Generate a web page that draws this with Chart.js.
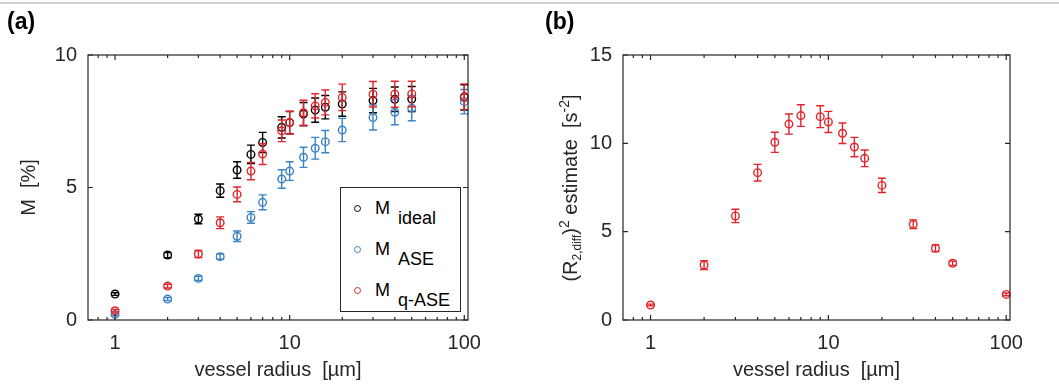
<!DOCTYPE html>
<html>
<head>
<meta charset="utf-8">
<title>Vessel radius dependence</title>
<script src="https://cdn.jsdelivr.net/npm/chart.js"></script>
<style>
  body { margin: 0; background: #fff; }
  #wrap {
    position: relative; width: 1059px; height: 387px; overflow: hidden;
    font-family: 'Liberation Sans', Arial, sans-serif; color: #262626;
  }
  canvas { position: absolute; top: 0; }
  #chartA { left: 0; }
  #chartB { left: 530px; }
  .rule { position: absolute; left: 0; top: 2px; width: 1059px; height: 2px; background: #d0d0d0; }
  .tag { position: absolute; top: 10px; font: bold 23px 'Liberation Sans', Arial, sans-serif; line-height: 23px; color: #000; }
  .legend {
    position: absolute; left: 340px; top: 187px; width: 121px; height: 125px;
    box-sizing: border-box; border: 1.3px solid #262626; background: #fff;
  }
  .lg-row { position: absolute; left: 375px; font-size: 18px; line-height: 18px; white-space: pre; color: #000; }
  .lg-row span { position: relative; top: 10px; margin-left: 8px; }
  .lg-dot { position: absolute; width: 7px; height: 7px; box-sizing: border-box; border: 1.4px solid; border-radius: 50%; }
  .ytitle {
    position: absolute; left: 571px; top: 188px; font-size: 20px; line-height: 20px;
    white-space: pre; transform: translate(-50%, -50%) rotate(-90deg);
  }
  .ytitle .lo { font-size: 12px; position: relative; top: 4px; }
  .ytitle .hi { font-size: 14px; position: relative; top: -8px; }
</style>
</head>
<body>
<div id="wrap">
  <div class="rule"></div>
  <canvas id="chartA" width="530" height="387"></canvas>
  <canvas id="chartB" width="529" height="387"></canvas>
  <div class="tag" style="left:7px">(a)</div>
  <div class="tag" style="left:545px">(b)</div>

  <div class="legend"></div>
  <div class="lg-dot" style="left:354px; top:205px; border-color:#000"></div>
  <div class="lg-row" style="top:199px">M<span>ideal</span></div>
  <div class="lg-dot" style="left:354px; top:246px; border-color:#3a83c5"></div>
  <div class="lg-row" style="top:240px">M<span>ASE</span></div>
  <div class="lg-dot" style="left:354px; top:287px; border-color:#e3242b"></div>
  <div class="lg-row" style="top:281px">M<span>q-ASE</span></div>

  <div class="ytitle">(R<span class="lo">2,diff</span>)<span class="hi">2</span> estimate  [s<span class="hi">-2</span>]</div>
</div>

<script>
// vessel radii in µm, shared by every series
const radius = [1, 2, 3, 4, 5, 6, 7, 9, 10, 12, 14, 16, 20, 30, 40, 50, 100];

// panel (a): M in %
const mIdeal    = [0.98, 2.45, 3.81, 4.88, 5.66, 6.25, 6.70, 7.27, 7.45, 7.77, 7.92, 8.03, 8.15, 8.28, 8.33, 8.34, 8.40];
const mIdealErr = [0.05, 0.10, 0.18, 0.25, 0.31, 0.35, 0.38, 0.40, 0.42, 0.44, 0.46, 0.44, 0.46, 0.46, 0.46, 0.47, 0.48];
const mAse      = [0.21, 0.79, 1.57, 2.39, 3.16, 3.87, 4.44, 5.32, 5.62, 6.14, 6.48, 6.73, 7.17, 7.64, 7.84, 7.99, 8.24];
const mAseErr   = [0.05, 0.06, 0.08, 0.10, 0.20, 0.22, 0.28, 0.35, 0.35, 0.38, 0.41, 0.42, 0.44, 0.47, 0.47, 0.47, 0.46];
const mQase     = [0.35, 1.28, 2.49, 3.67, 4.74, 5.62, 6.26, 7.14, 7.45, 7.82, 8.08, 8.21, 8.40, 8.52, 8.52, 8.53, 8.43];
const mQaseErr  = [0.05, 0.07, 0.13, 0.22, 0.28, 0.33, 0.39, 0.41, 0.43, 0.47, 0.46, 0.47, 0.50, 0.48, 0.49, 0.48, 0.48];

// panel (b): (R2,diff)^2 estimate in s^-2
const r2diff    = [0.85, 3.11, 5.89, 8.34, 10.06, 11.09, 11.57, 11.51, 11.21, 10.57, 9.79, 9.15, 7.62, 5.42, 4.06, 3.21, 1.45];
const r2diffErr = [0.05, 0.25, 0.38, 0.47, 0.57, 0.57, 0.61, 0.62, 0.60, 0.58, 0.55, 0.47, 0.40, 0.25, 0.19, 0.12, 0.08];

const xTicks = [1, 10, 100];
const xMinor = [0.8, 0.9, 2, 3, 4, 5, 6, 7, 8, 9, 20, 30, 40, 50, 60, 70, 80, 90];
const yTicksA = [0, 5, 10];
const yTicksB = [0, 5, 10, 15];

const BLACK = '#000000';
const BLUE = '#3a83c5';
const RED = '#e3242b';
const AXIS = '#262626';
const FONT = "'Liberation Sans', Arial, sans-serif";

// vertical error bars with caps, drawn right after each dataset
const errorBars = {
    id: 'errorBars',
    afterDatasetDraw(chart, args) {
        const ds = chart.data.datasets[args.index];
        if (!ds.errors) return;
        const ctx = chart.ctx;
        const xs = chart.scales.x, ys = chart.scales.y;
        const cap = 4;
        ctx.save();
        ctx.strokeStyle = ds.borderColor;
        ctx.lineWidth = 1.4;
        ds.data.forEach((p, k) => {
            const px = xs.getPixelForValue(p.x);
            const top = ys.getPixelForValue(p.y + ds.errors[k]);
            const bot = ys.getPixelForValue(p.y - ds.errors[k]);
            ctx.beginPath();
            ctx.moveTo(px, top); ctx.lineTo(px, bot);
            ctx.moveTo(px - cap, top); ctx.lineTo(px + cap, top);
            ctx.moveTo(px - cap, bot); ctx.lineTo(px + cap, bot);
            ctx.stroke();
        });
        ctx.restore();
    }
};

// box around the plot area with inward ticks on all four sides
const axisBox = {
    id: 'axisBox',
    afterDraw(chart) {
        const ctx = chart.ctx;
        const {left, right, top, bottom} = chart.chartArea;
        const xs = chart.scales.x, ys = chart.scales.y;
        ctx.save();
        ctx.strokeStyle = AXIS;
        ctx.lineWidth = 1.2;
        ctx.beginPath();
        const tickX = (v, len) => {
            const px = xs.getPixelForValue(v);
            ctx.moveTo(px, bottom); ctx.lineTo(px, bottom - len);
            ctx.moveTo(px, top); ctx.lineTo(px, top + len);
        };
        xTicks.forEach(v => tickX(v, 5));
        xMinor.forEach(v => tickX(v, 3));
        ys.ticks.forEach(t => {
            const py = ys.getPixelForValue(t.value);
            ctx.moveTo(left, py); ctx.lineTo(left + 5, py);
            ctx.moveTo(right, py); ctx.lineTo(right - 5, py);
        });
        ctx.stroke();
        ctx.strokeRect(left, top, right - left, bottom - top);
        ctx.restore();
    }
};

function series(label, values, errors, color, order) {
    return {
        label: label,
        data: radius.map((r, k) => ({x: r, y: values[k]})),
        errors: errors,
        borderColor: color,
        backgroundColor: 'rgba(0,0,0,0)',
        pointRadius: 3.8,
        pointBorderWidth: 1.4,
        pointHoverRadius: 3.8,
        order: order,
        clip: false
    };
}

function buildPanel(canvasId, datasets, opts) {
    return new Chart(document.getElementById(canvasId), {
        type: 'scatter',
        data: { datasets: datasets },
        options: {
            responsive: false,
            animation: false,
            events: [],
            layout: { padding: { left: 0, top: 55, right: opts.padRight, bottom: 0 } },
            plugins: { legend: { display: false }, tooltip: { enabled: false } },
            scales: {
                x: {
                    type: 'logarithmic',
                    min: 0.7,
                    max: 105,
                    grid: { display: false, drawTicks: false },
                    border: { display: false },
                    ticks: {
                        color: AXIS, padding: 11, maxRotation: 0, autoSkip: false,
                        font: { family: FONT, size: 20 },
                        callback: v => String(v)
                    },
                    afterBuildTicks: s => { s.ticks = xTicks.map(v => ({value: v})); },
                    afterFit: s => { s.height = 67; s.paddingLeft = 0; s.paddingRight = 0; },
                    title: {
                        display: true, text: 'vessel radius  [µm]', color: AXIS,
                        font: { family: FONT, size: 20 }, padding: { top: 0, bottom: 5 }
                    }
                },
                y: {
                    min: opts.yTicks[0],
                    max: opts.yTicks[opts.yTicks.length - 1],
                    grid: { display: false, drawTicks: false },
                    border: { display: false },
                    ticks: {
                        color: AXIS, padding: 11,
                        font: { family: FONT, size: 20 }
                    },
                    afterBuildTicks: s => { s.ticks = opts.yTicks.map(v => ({value: v})); },
                    afterFit: s => { s.width = opts.yWidth; s.paddingTop = 0; s.paddingBottom = 0; },
                    title: {
                        display: !!opts.yTitle, text: opts.yTitle || '', color: AXIS,
                        font: { family: FONT, size: 20 }, padding: { top: 17, bottom: 0 }
                    }
                }
            }
        },
        plugins: [errorBars, axisBox]
    });
}

buildPanel('chartA', [
    series('M ideal', mIdeal, mIdealErr, BLACK, 3),
    series('M ASE', mAse, mAseErr, BLUE, 2),
    series('M q-ASE', mQase, mQaseErr, RED, 1)
], { yTicks: yTicksA, yWidth: 88, padRight: 62, yTitle: 'M  [%]' });

buildPanel('chartB', [
    series('(R2,diff)^2 estimate', r2diff, r2diffErr, RED, 1)
], { yTicks: yTicksB, yWidth: 93, padRight: 49 });
</script>
</body>
</html>
